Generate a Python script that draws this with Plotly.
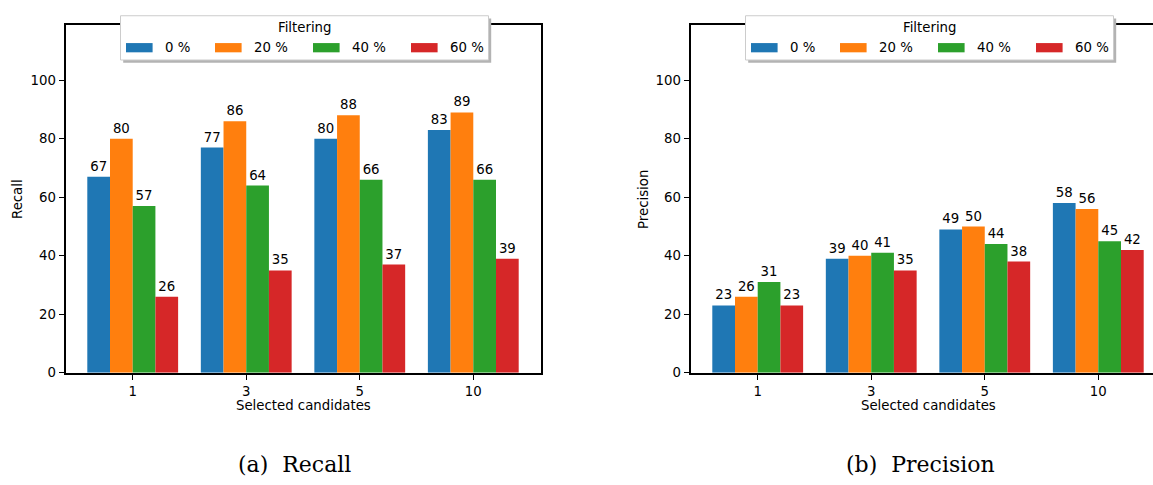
import plotly.graph_objects as go

# ---------------- data ----------------
categories = ["1", "3", "5", "10"]
filter_levels = ["0 %", "20 %", "40 %", "60 %"]
colors = ["#1f77b4", "#ff7f0e", "#2ca02c", "#d62728"]

recall_0 = [67, 77, 80, 83]
recall_20 = [80, 86, 88, 89]
recall_40 = [57, 64, 66, 66]
recall_60 = [26, 35, 37, 39]

precision_0 = [23, 39, 49, 58]
precision_20 = [26, 40, 50, 56]
precision_40 = [31, 41, 44, 45]
precision_60 = [23, 35, 38, 42]

yticks = [0, 20, 40, 60, 80, 100]

recall = [recall_0, recall_20, recall_40, recall_60]
precision = [precision_0, precision_20, precision_40, precision_60]

# ---------------- geometry helpers ----------------
W, H = 1153, 485
FONT = "DejaVu Sans"
FS = 13.3


def px(x):
    return x / W


def py(y):
    return 1 - y / H


left1, right1 = 65.5, 540.5
left2 = 690.5
top, bottom = 25.7, 379.0
ppu = (right1 - left1) / 4.184  # pixels per category unit
xr1 = [-0.592, 3.592]
xr2 = [-0.592, -0.592 + (W - left2) / ppu]
yr = [0, 118.8]

fig = go.Figure()

for i, lvl in enumerate(filter_levels):
    fig.add_trace(go.Bar(
        x=categories, y=recall[i], name=lvl, marker=dict(color=colors[i], line=dict(width=0)),
        text=[str(v) for v in recall[i]], textposition="outside", cliponaxis=False,
        constraintext="none",
        textfont=dict(family=FONT, size=FS, color="black"),
        xaxis="x", yaxis="y", showlegend=False, offsetgroup=str(i),
    ))
for i, lvl in enumerate(filter_levels):
    fig.add_trace(go.Bar(
        x=categories, y=precision[i], name=lvl, marker=dict(color=colors[i], line=dict(width=0)),
        text=[str(v) for v in precision[i]], textposition="outside", cliponaxis=False,
        constraintext="none",
        textfont=dict(family=FONT, size=FS, color="black"),
        xaxis="x2", yaxis="y2", showlegend=False, offsetgroup=str(i),
    ))

axis_common = dict(
    showline=True, linecolor="black", linewidth=1.8,
    ticks="outside", ticklen=5, tickwidth=1.4, tickcolor="black",
    showgrid=False, zeroline=False,
    tickfont=dict(family=FONT, size=FS, color="black"),
)

fig.update_layout(
    width=W, height=H,
    margin=dict(l=0, r=0, t=0, b=0),
    paper_bgcolor="white", plot_bgcolor="white",
    barmode="group", bargap=0.2, bargroupgap=0,
    xaxis=dict(domain=[px(left1), px(right1)], range=xr1, type="category",
               mirror=True, anchor="y", **axis_common),
    yaxis=dict(domain=[py(bottom), py(top)], range=yr, tickvals=yticks,
               mirror=True, anchor="x", **axis_common),
    xaxis2=dict(domain=[px(left2), 1.0], range=xr2, type="category",
                mirror=True, anchor="y2", **axis_common),
    yaxis2=dict(domain=[py(bottom), py(top)], range=yr, tickvals=yticks,
                mirror=False, anchor="x2", **axis_common),
    showlegend=False,
)

shapes = []
annotations = []

# axis titles
for cx, lab, ylab in [((left1 + right1) / 2, "Selected candidates", ("Recall", 17)),
                      ((left2 + left2 + 475) / 2, "Selected candidates", ("Precision", 643))]:
    annotations.append(dict(x=px(cx), y=py(412), xref="paper", yref="paper",
                            text=lab, showarrow=False, xanchor="center", yanchor="middle",
                            font=dict(family=FONT, size=FS, color="black")))
    annotations.append(dict(x=px(ylab[1]), y=py((top + bottom) / 2), xref="paper", yref="paper",
                            text=ylab[0], showarrow=False, textangle=-90,
                            xanchor="center", yanchor="middle",
                            font=dict(family=FONT, size=FS, color="black")))

# captions
for cx, cap in [(294, "(a)&nbsp;&nbsp;Recall"), (920, "(b)&nbsp;&nbsp;Precision")]:
    annotations.append(dict(x=px(cx), y=py(472), xref="paper", yref="paper",
                            text=cap, showarrow=False, xanchor="center", yanchor="middle",
                            font=dict(family="DejaVu Serif", size=22, color="black")))

# custom legends (matplotlib style, with shadow)
handle_off = [5.5, 94.5, 192.5, 290.5]
text_off = [42.5, 131.5, 229.5, 327.5]
for lx in [left1 + 55, left2 + 55]:
    bx0, bx1, by0, by1 = lx, lx + 368, 16, 61
    shapes.append(dict(type="rect", xref="paper", yref="paper",
                       x0=px(bx0 + 2.7), x1=px(bx1 + 2.7), y0=py(by0 + 2.7), y1=py(by1 + 2.7),
                       fillcolor="#b3b3b3", line=dict(width=0), layer="above"))
    shapes.append(dict(type="rect", xref="paper", yref="paper",
                       x0=px(bx0), x1=px(bx1), y0=py(by0), y1=py(by1),
                       fillcolor="white", line=dict(color="#cccccc", width=1), layer="above"))
    annotations.append(dict(x=px((bx0 + bx1) / 2), y=py(27.5), xref="paper", yref="paper",
                            text="Filtering", showarrow=False, xanchor="center", yanchor="middle",
                            font=dict(family=FONT, size=FS, color="black")))
    for i, lvl in enumerate(filter_levels):
        shapes.append(dict(type="rect", xref="paper", yref="paper",
                           x0=px(lx + handle_off[i]), x1=px(lx + handle_off[i] + 26.6),
                           y0=py(43.8), y1=py(53.2),
                           fillcolor=colors[i], line=dict(width=0), layer="above"))
        annotations.append(dict(x=px(lx + text_off[i]), y=py(48.5), xref="paper", yref="paper",
                                text=lvl, showarrow=False, xanchor="left", yanchor="middle",
                                font=dict(family=FONT, size=FS, color="black")))

fig.update_layout(shapes=shapes, annotations=annotations)

# remove the default 8px page margin so the 1153x485 figure fills the window exactly,
# and hide the interactive mode bar
fig.write_html("out.html",
               config={"displayModeBar": False},
               post_script="document.body.style.margin='0';document.body.style.overflow='hidden';")
